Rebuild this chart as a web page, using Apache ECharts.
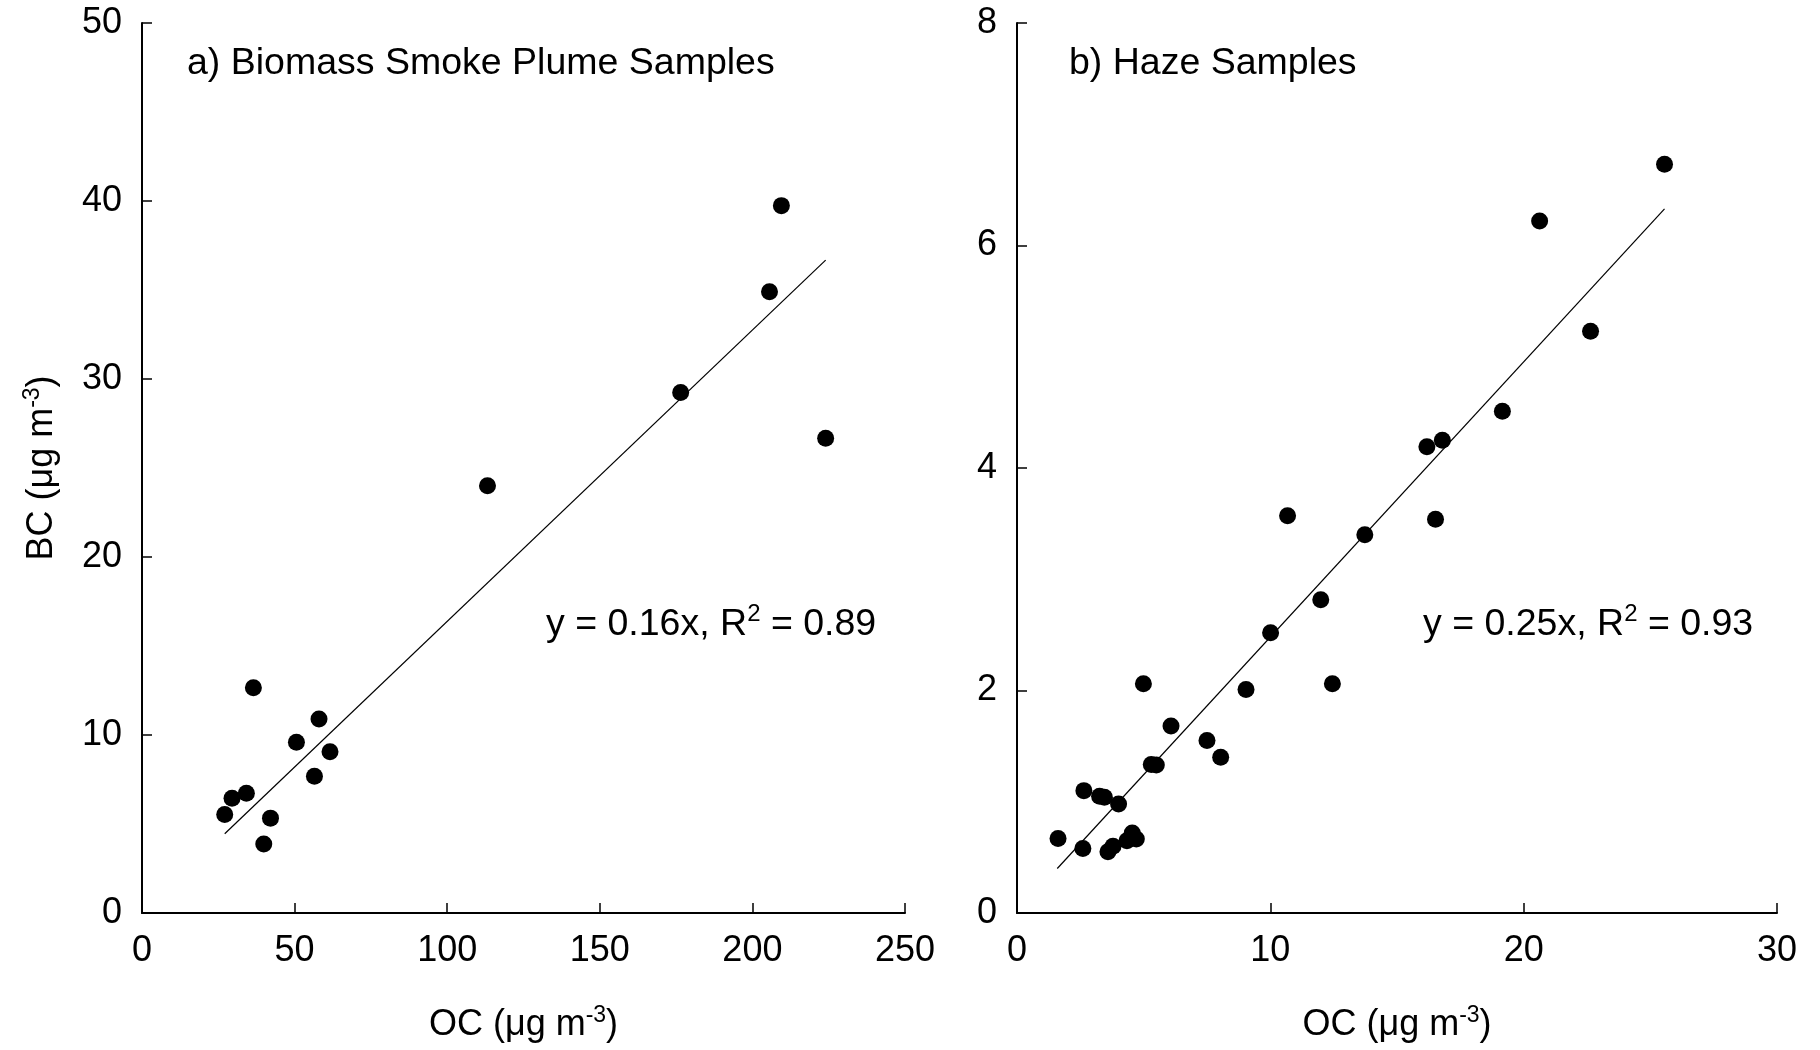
<!DOCTYPE html>
<html>
<head>
<meta charset="utf-8">
<script src="https://cdn.jsdelivr.net/npm/echarts@6/dist/echarts.min.js"></script>
<style>
  html, body { margin: 0; padding: 0; background: #fff; }
  #chart { width: 1820px; height: 1050px; }
</style>
</head>
<body>
<div id="chart"></div>
<script>
// a) biomass smoke plume samples
const plumeOC = [27.1, 29.5, 34.2, 36.5, 39.9, 42.1, 50.6, 56.5, 58.0, 61.6, 113.2, 176.5, 205.6, 209.5, 224.0];
const plumeBC = [5.53, 6.45, 6.73, 12.65, 3.87, 5.33, 9.59, 7.68, 10.9, 9.06, 24.0, 29.24, 34.9, 39.74, 26.67];
const plumeFitOC = [27.1, 224.0];
const plumeFitBC = [4.45, 36.68];

// b) haze samples
const hazeOC = [1.62, 2.60, 2.64, 3.26, 3.45, 3.59, 3.79, 4.01, 4.34, 4.55, 4.71, 4.99, 5.30, 5.50, 6.08,
                7.50, 8.04, 9.04, 10.01, 10.68, 11.99, 12.45, 13.73, 16.18, 16.52, 16.79, 19.16, 20.63, 22.64, 25.56];
const hazeBC = [0.67, 0.58, 1.10, 1.05, 1.04, 0.55, 0.60, 0.98, 0.65, 0.72, 0.665, 2.06, 1.335, 1.33, 1.68,
                1.55, 1.40, 2.01, 2.52, 3.57, 2.815, 2.06, 3.40, 4.19, 3.54, 4.25, 4.51, 6.22, 5.23, 6.73];
const hazeFitOC = [1.59, 25.56];
const hazeFitBC = [0.40, 6.33];

const xTicksLeft = { min: 0, max: 250, interval: 50 };
const yTicksLeft = { min: 0, max: 50, interval: 10 };
const xTicksRight = { min: 0, max: 30, interval: 10 };
const yTicksRight = { min: 0, max: 8, interval: 2 };

const font = "'Liberation Sans', Arial, sans-serif";
const supStyle = { fontSize: 23, fontFamily: font, fontWeight: 'normal', color: '#000', padding: [0, 0, 20, 0] };
const mainStyle = { fontSize: 36, fontFamily: font, fontWeight: 'normal', color: '#000' };
const richStyle = Object.assign({}, mainStyle, { rich: { sup: supStyle } });
// panel captions and fit equations are a touch larger than the axis text
const bigStyle = Object.assign({}, mainStyle, { fontSize: 37.5 });
const bigRich = Object.assign({}, bigStyle, { rich: { sup: Object.assign({}, supStyle, { fontSize: 24, padding: [0, 0, 21, 0] }) } });

function pairs(xs, ys) {
  return xs.map((x, i) => [x, ys[i]]);
}

function axisBase(t) {
  return {
    type: 'value',
    min: t.min,
    max: t.max,
    interval: t.interval,
    axisLine: { show: true, onZero: false, lineStyle: { color: '#000', width: 2 } },
    axisTick: { show: true, inside: true, length: 10, lineStyle: { color: '#000', width: 1.5 } },
    axisLabel: { fontSize: 36, fontFamily: font, color: '#000', margin: 20 },
    splitLine: { show: false }
  };
}

const ocName = 'OC (μg m{sup|-3})';

let chart = echarts.init(document.getElementById('chart'));
let option = {
  backgroundColor: '#fff',
  animation: false,
  title: [
    { text: 'a) Biomass Smoke Plume Samples', left: 182, top: 40, textStyle: bigStyle },
    { text: 'b) Haze Samples', left: 1064, top: 40, textStyle: bigStyle },
    { text: 'y = 0.16x, R{sup|2} = 0.89', left: 541, top: 597, textStyle: bigRich },
    { text: 'y = 0.25x, R{sup|2} = 0.93', left: 1418, top: 597, textStyle: bigRich }
  ],
  grid: [
    { left: 142, right: 915, top: 23, bottom: 137 },
    { left: 1017, right: 43, top: 23, bottom: 137 }
  ],
  xAxis: [
    Object.assign(axisBase(xTicksLeft), {
      gridIndex: 0, name: ocName, nameLocation: 'middle', nameGap: 91, nameTextStyle: richStyle
    }),
    Object.assign(axisBase(xTicksRight), {
      gridIndex: 1, name: ocName, nameLocation: 'middle', nameGap: 91, nameTextStyle: richStyle
    })
  ],
  yAxis: [
    Object.assign(axisBase(yTicksLeft), {
      gridIndex: 0, name: 'BC (μg m{sup|-3})', nameLocation: 'middle', nameGap: 78, nameRotate: 90,
      nameTextStyle: richStyle
    }),
    Object.assign(axisBase(yTicksRight), { gridIndex: 1 })
  ],
  series: [
    {
      type: 'scatter', xAxisIndex: 0, yAxisIndex: 0,
      data: pairs(plumeOC, plumeBC),
      symbolSize: 17, itemStyle: { color: '#000', opacity: 1 }, silent: true
    },
    {
      type: 'line', xAxisIndex: 0, yAxisIndex: 0,
      data: pairs(plumeFitOC, plumeFitBC),
      showSymbol: false, lineStyle: { color: '#000', width: 1.2 }, silent: true
    },
    {
      type: 'scatter', xAxisIndex: 1, yAxisIndex: 1,
      data: pairs(hazeOC, hazeBC),
      symbolSize: 17, itemStyle: { color: '#000', opacity: 1 }, silent: true
    },
    {
      type: 'line', xAxisIndex: 1, yAxisIndex: 1,
      data: pairs(hazeFitOC, hazeFitBC),
      showSymbol: false, lineStyle: { color: '#000', width: 1.2 }, silent: true
    }
  ]
};
chart.setOption(option);
window.onresize = chart.resize;
</script>
</body>
</html>
